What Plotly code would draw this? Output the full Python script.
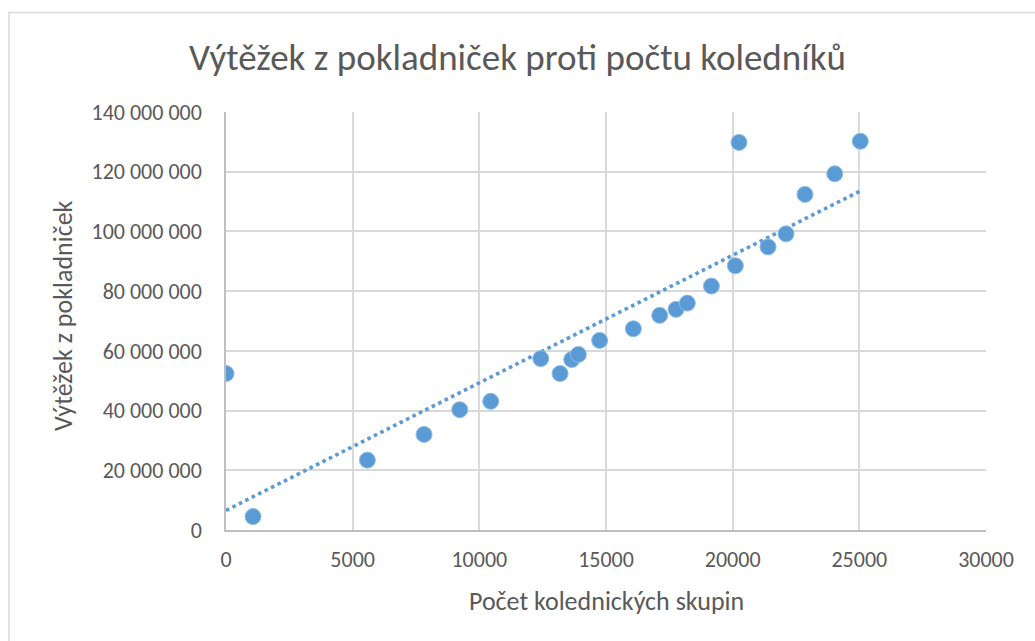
import numpy as np
import plotly.graph_objects as go

# Data
skupiny = [0, 1066, 5580, 7817, 9226, 10450, 12424, 13186, 13647, 13910, 14750,
           16080, 17120, 17765, 18210, 19160, 20105, 20250, 21395, 22105, 22855,
           24030, 25040]
vytezek = [52.4e6, 4.5e6, 23.4e6, 32.0e6, 40.3e6, 43.1e6, 57.4e6, 52.4e6, 57.1e6,
           58.8e6, 63.5e6, 67.4e6, 71.9e6, 73.9e6, 76.0e6, 81.7e6, 88.5e6, 129.8e6,
           94.8e6, 99.2e6, 112.4e6, 119.3e6, 130.2e6]

x_ticks = [0, 5000, 10000, 15000, 20000, 25000, 30000]
y_ticks = [0, 20e6, 40e6, 60e6, 80e6, 100e6, 120e6, 140e6]
y_ticktext = ["0", "20 000 000", "40 000 000", "60 000 000", "80 000 000",
              "100 000 000", "120 000 000", "140 000 000"]

title_text = "Výtěžek z pokladniček proti počtu koledníků"
x_title = "Počet kolednických skupin"
y_title = "Výtěžek z pokladniček"

FONT = "Calibri, Carlito, Lato, sans-serif"
TXT = "#595959"
BLUE = "#5b9bd5"

# linear trendline (least squares), drawn over the data's x range
slope, intercept = np.polyfit(skupiny, vytezek, 1)
tx = [min(skupiny), max(skupiny)]
ty = [intercept + slope * v for v in tx]

fig = go.Figure()
fig.add_trace(go.Scatter(
    x=tx, y=ty, mode="lines",
    line=dict(color=BLUE, width=3.6, dash="dot"),
    hoverinfo="skip", showlegend=False))
fig.add_trace(go.Scatter(
    x=skupiny, y=vytezek, mode="markers",
    marker=dict(color=BLUE, size=16, line=dict(color="#8fbce6", width=1)),
    showlegend=False))

fig.update_layout(
    width=1035, height=641,
    paper_bgcolor="white", plot_bgcolor="white",
    margin=dict(l=226, r=49, t=112, b=111, autoexpand=False),
    font=dict(family=FONT, color=TXT, size=22),
    title=dict(text=title_text, x=0.5, xanchor="center", y=1 - 57 / 641,
               yanchor="middle", font=dict(family=FONT, size=37, color=TXT)),
    xaxis=dict(range=[0, 30000], tickvals=x_ticks, ticktext=[str(v) for v in x_ticks],
               showgrid=True, gridcolor="#d9d9d9", gridwidth=1.5,
               showline=True, linecolor="#bfbfbf", linewidth=1.5,
               zeroline=False, ticks="", ticklabelstandoff=9,
               tickfont=dict(family=FONT, size=22, color=TXT)),
    yaxis=dict(range=[0, 140e6], tickvals=y_ticks, ticktext=y_ticktext,
               showgrid=True, gridcolor="#d9d9d9", gridwidth=1.5,
               showline=True, linecolor="#bfbfbf", linewidth=1.5,
               zeroline=False, ticks="", ticklabelstandoff=18,
               tickfont=dict(family=FONT, size=22, color=TXT)),
    annotations=[
        dict(text=x_title, xref="paper", yref="paper", x=0.5, y=-71 / 418,
             xanchor="center", yanchor="middle", showarrow=False,
             font=dict(family=FONT, size=26, color=TXT)),
        dict(text=y_title, xref="paper", yref="paper", x=-163 / 760,
             y=(530 - 316) / 418,
             xanchor="center", yanchor="middle", textangle=-90, showarrow=False,
             font=dict(family=FONT, size=26, color=TXT)),
    ],
    shapes=[
        dict(type="rect", xref="paper", yref="paper",
             x0=-217 / 760, x1=1.2, y0=-0.5, y1=(530 - 12.5) / 418,
             line=dict(color="#d9d9d9", width=1.5), fillcolor="rgba(0,0,0,0)",
             layer="below"),
    ],
)

fig.write_html("out.html", config={"displayModeBar": False},
               post_script="document.body.style.margin='0';document.body.style.overflow='hidden';")
